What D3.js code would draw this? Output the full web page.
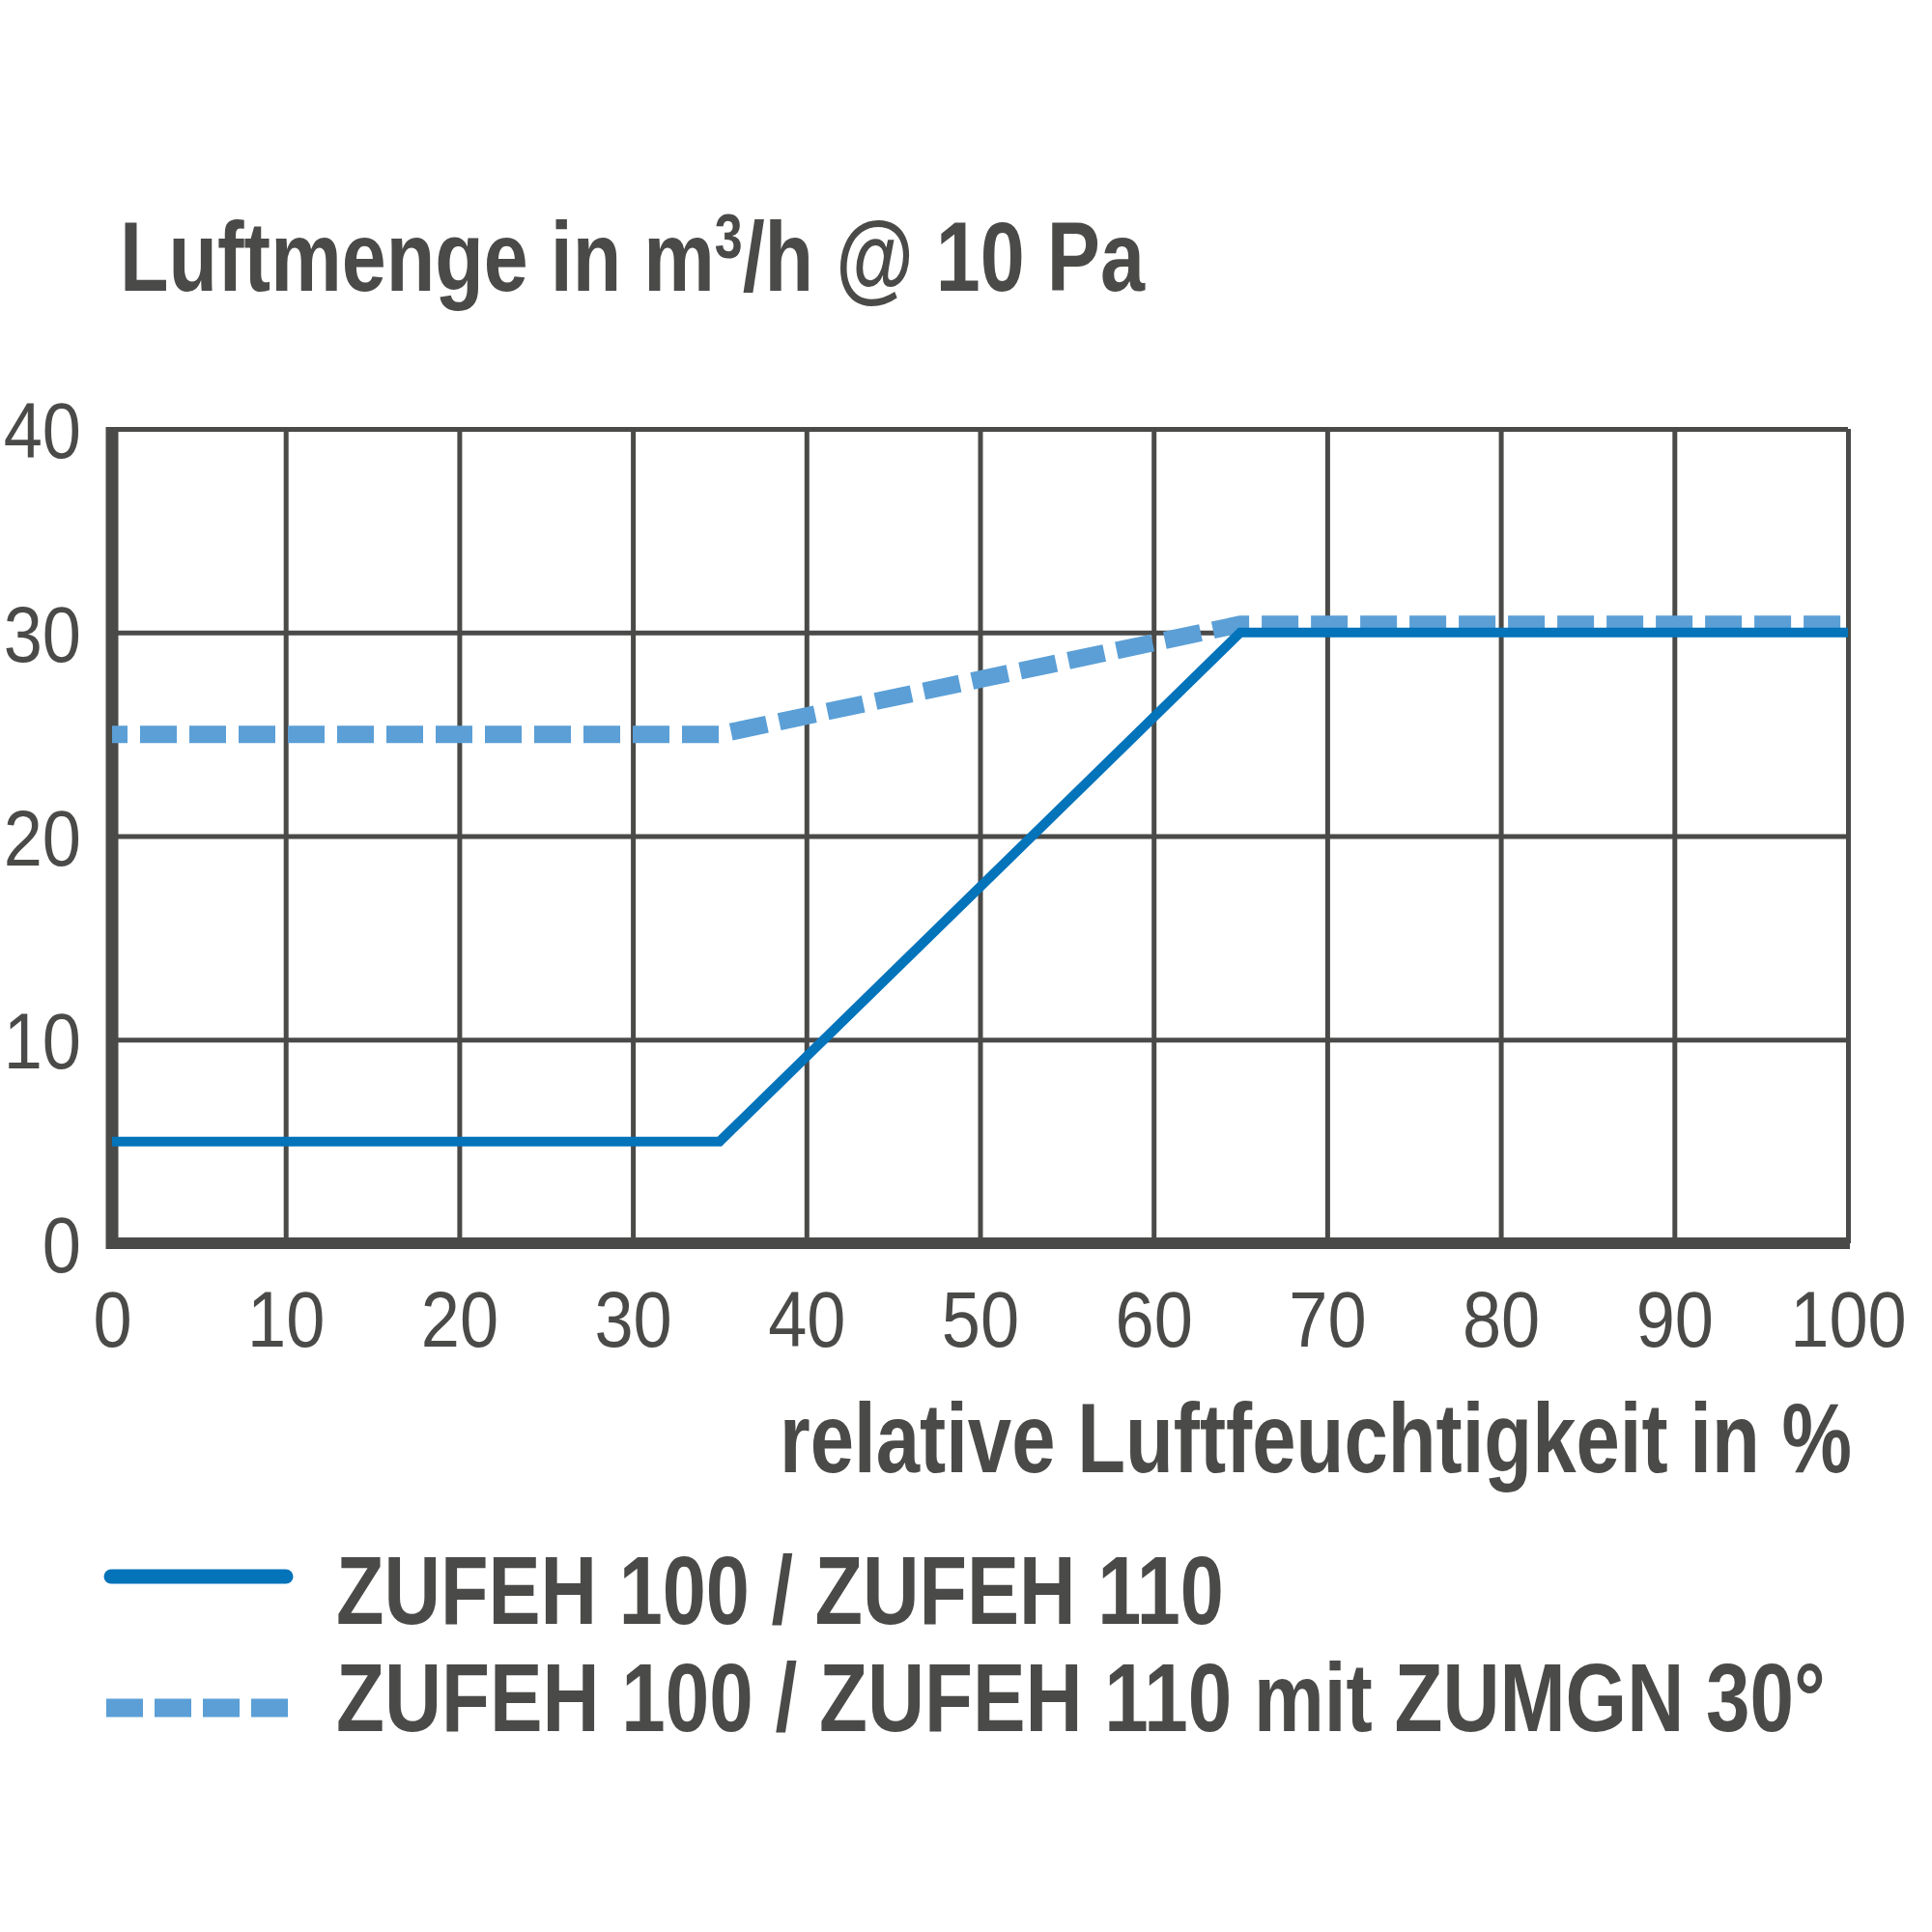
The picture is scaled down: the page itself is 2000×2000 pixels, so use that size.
<!DOCTYPE html>
<html>
<head>
<meta charset="UTF-8">
<script src="https://cdn.jsdelivr.net/npm/d3@7"></script>
<style>
    body { margin: 0; background: #fff; }
    .grid line { stroke: #4a4a48; stroke-width: 5; }
    .grid path { display: none; }
    .tick text { font-family: "Liberation Sans", Arial, sans-serif; font-weight: normal; fill: #4a4a48; }
    .bold { font-family: "Liberation Sans", Arial, sans-serif; font-weight: bold; fill: #4a4a48; }
</style>
</head>
<body>
<div id="chart"></div>
<script>
// values
var humidity = [0, 35, 65, 100];
var zufeh = [5, 5, 30, 30];
var zufehZumgn = [25, 25, 30.4, 30.4];
var seriesNames = ["ZUFEH 100 / ZUFEH 110", "ZUFEH 100 / ZUFEH 110 mit ZUMGN 30°"];
var xTicks = [0, 10, 20, 30, 40, 50, 60, 70, 80, 90, 100];
var yTicks = [0, 10, 20, 30, 40];

var width = 2000, height = 2000;
var ink = "#4a4a48";

// plot area (not "top": that name is taken by window.top)
var plotLeft = 116, plotRight = 1913, plotTop = 444, plotBottom = 1287;

var x = d3.scaleLinear().domain([0, 100]).range([plotLeft, plotRight]);
var y = d3.scaleLinear().domain([0, 40]).range([plotBottom, plotTop]);

var svg = d3.select("#chart")
    .append("svg")
    .attr("width", width)
    .attr("height", height);

// squeeze a text element to a given width from its start x
function fitWidth(sel, x0, target) {
    var w = sel.node().getBBox().width;
    sel.attr("transform", "translate(" + x0 + ",0) scale(" + (target / w) + ",1) translate(" + (-x0) + ",0)");
}

var squeeze = 0.88;

// vertical grid lines + x labels
var xAxis = d3.axisBottom(x).tickValues(xTicks).tickSize(-(plotBottom - plotTop)).tickPadding(30);
var gx = svg.append("g")
    .attr("class", "grid")
    .attr("transform", "translate(0," + plotBottom + ")")
    .call(xAxis);
gx.selectAll("text")
    .attr("font-size", 82)
    .attr("dy", 0)
    .attr("y", 107)
    .attr("transform", "scale(" + squeeze + ",1)");

// horizontal grid lines + y labels
var yAxis = d3.axisLeft(y).tickValues(yTicks).tickSize(-(plotRight - plotLeft)).tickPadding(30);
var gy = svg.append("g")
    .attr("class", "grid")
    .attr("transform", "translate(" + plotLeft + ",0)")
    .call(yAxis);
gy.selectAll("text")
    .attr("font-size", 82)
    .attr("x", -32)
    .attr("dy", "0.36em")
    .attr("transform", "translate(-32,0) scale(" + squeeze + ",1) translate(32,0)");

// thick axes
svg.append("line")
    .attr("x1", x(0)).attr("x2", x(0))
    .attr("y1", y(40) - 2).attr("y2", y(0) + 6)
    .attr("stroke", ink).attr("stroke-width", 13);
svg.append("line")
    .attr("x1", x(0) - 6).attr("x2", x(100) + 2)
    .attr("y1", y(0)).attr("y2", y(0))
    .attr("stroke", ink).attr("stroke-width", 12);

// series
var line = d3.line()
    .x(function (d, i) { return x(humidity[i]); })
    .y(function (d) { return y(d); });

svg.append("path")
    .attr("d", line(zufehZumgn))
    .attr("fill", "none")
    .attr("stroke", "#5b9fd6")
    .attr("stroke-width", 18)
    .attr("stroke-dasharray", "38,13")
    .attr("stroke-dashoffset", 22);

svg.append("path")
    .attr("d", line(zufeh))
    .attr("fill", "none")
    .attr("stroke", "#0373ba")
    .attr("stroke-width", 10);

// title
var title = svg.append("text")
    .attr("class", "bold")
    .attr("x", 124).attr("y", 301)
    .attr("font-size", 102);
title.append("tspan").text("Luftmenge in m");
title.append("tspan").attr("font-size", 64).attr("dy", -34).text("3");
title.append("tspan").attr("dy", 34).text("/h @ 10 Pa");
fitWidth(title, 124, 1062);

// x axis title
var xt = svg.append("text")
    .attr("class", "bold")
    .attr("x", 807).attr("y", 1524)
    .attr("font-size", 102)
    .text("relative Luftfeuchtigkeit in %");
fitWidth(xt, 807, 1110);

// legend
svg.append("line")
    .attr("x1", 115).attr("x2", 296)
    .attr("y1", 1632).attr("y2", 1632)
    .attr("stroke", "#0373ba").attr("stroke-width", 15)
    .attr("stroke-linecap", "round");
svg.append("line")
    .attr("x1", 110).attr("x2", 300)
    .attr("y1", 1768).attr("y2", 1768)
    .attr("stroke", "#5b9fd6").attr("stroke-width", 19)
    .attr("stroke-dasharray", "38,12");

var l1 = svg.append("text")
    .attr("class", "bold")
    .attr("x", 348).attr("y", 1681)
    .attr("font-size", 100)
    .text(seriesNames[0]);
fitWidth(l1, 348, 919);

var l2 = svg.append("text")
    .attr("class", "bold")
    .attr("x", 348).attr("y", 1792)
    .attr("font-size", 100)
    .text(seriesNames[1]);
fitWidth(l2, 348, 1542);
</script>
</body>
</html>
